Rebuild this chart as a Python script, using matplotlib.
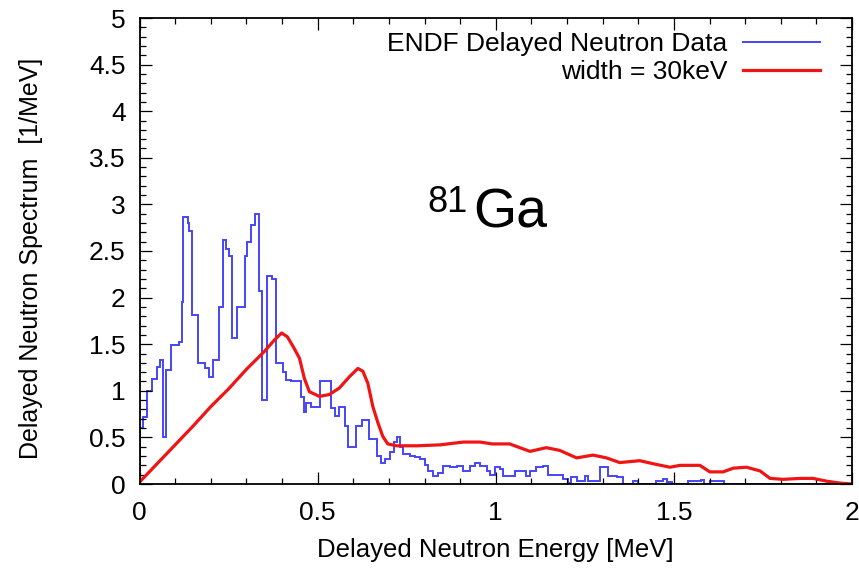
import matplotlib
matplotlib.use("Agg")
import matplotlib.pyplot as plt
from matplotlib.ticker import MultipleLocator, FuncFormatter

plt.rcParams['font.family'] = ['Liberation Sans', 'DejaVu Sans']

# ENDF delayed neutron spectrum (histogram): left bin edges and heights
blue_edges = [0.000, 0.010, 0.020, 0.035, 0.050, 0.058, 0.066, 0.073, 0.088, 0.110,
              0.118, 0.123, 0.135, 0.140, 0.148, 0.165, 0.185, 0.195, 0.205, 0.222,
              0.233, 0.243, 0.252, 0.260, 0.275, 0.296, 0.303, 0.312, 0.325, 0.336,
              0.344, 0.357, 0.372, 0.382, 0.402, 0.412, 0.425, 0.452, 0.462, 0.468,
              0.480, 0.508, 0.538, 0.548, 0.560, 0.578, 0.585, 0.607, 0.625, 0.645,
              0.667, 0.678, 0.689, 0.703, 0.713, 0.722, 0.731, 0.741, 0.759, 0.773,
              0.787, 0.801, 0.811, 0.825, 0.839, 0.853, 0.872, 0.890, 0.909, 0.928,
              0.942, 0.956, 0.975, 0.984, 0.998, 1.011, 1.020, 1.053, 1.086, 1.096,
              1.114, 1.133, 1.147, 1.189, 1.203, 1.212, 1.227, 1.250, 1.260, 1.292,
              1.316, 1.339, 1.358, 1.386, 1.400, 1.451, 1.470, 1.480, 1.494, 1.540,
              1.575, 1.585, 1.600, 1.640, 2.000]
blue_vals = [0.60, 0.72, 1.00, 1.13, 1.26, 1.33, 0.50, 1.22, 1.49, 1.52,
             1.95, 2.87, 2.80, 2.71, 1.81, 1.30, 1.24, 1.15, 1.33, 1.90,
             2.62, 2.52, 2.45, 1.57, 1.90, 2.45, 2.60, 2.78, 2.90, 2.07,
             0.90, 2.23, 2.20, 1.30, 1.20, 1.12, 1.10, 0.93, 0.77, 0.87,
             0.83, 1.10, 0.82, 0.73, 0.83, 0.62, 0.40, 0.62, 0.69, 0.48,
             0.30, 0.23, 0.27, 0.34, 0.45, 0.50, 0.40, 0.32, 0.30, 0.29,
             0.27, 0.20, 0.14, 0.09, 0.12, 0.19, 0.18, 0.19, 0.14, 0.19,
             0.23, 0.19, 0.14, 0.10, 0.18, 0.16, 0.09, 0.14, 0.09, 0.14,
             0.18, 0.19, 0.10, 0.05, 0.01, 0.07, 0.03, 0.09, 0.03, 0.18,
             0.09, 0.07, 0.00, 0.03, 0.00, 0.03, 0.05, 0.02, 0.00, 0.03,
             0.04, 0.00, 0.03, 0.00]

# smoothed spectrum, 30 keV width
red_energy = [0.000, 0.050, 0.100, 0.150, 0.200, 0.250, 0.300, 0.350, 0.380, 0.399,
              0.415, 0.432, 0.449, 0.463, 0.477, 0.505, 0.533, 0.561, 0.589, 0.613,
              0.627, 0.641, 0.655, 0.669, 0.683, 0.697, 0.722, 0.778, 0.844, 0.909,
              0.956, 0.990, 1.039, 1.096, 1.142, 1.180, 1.227, 1.273, 1.311, 1.348,
              1.404, 1.451, 1.489, 1.517, 1.545, 1.573, 1.601, 1.638, 1.667, 1.704,
              1.742, 1.770, 1.807, 1.854, 1.891, 1.929, 1.966, 2.000]
red_vals = [0.02, 0.22, 0.42, 0.62, 0.83, 1.02, 1.23, 1.42, 1.55, 1.62,
            1.58, 1.47, 1.35, 1.13, 0.99, 0.94, 0.96, 1.03, 1.15, 1.24,
            1.21, 1.08, 0.83, 0.66, 0.51, 0.43, 0.41, 0.41, 0.42, 0.45,
            0.45, 0.43, 0.43, 0.35, 0.39, 0.36, 0.28, 0.31, 0.28, 0.23,
            0.25, 0.21, 0.18, 0.20, 0.20, 0.20, 0.13, 0.13, 0.17, 0.18,
            0.14, 0.06, 0.05, 0.06, 0.06, 0.03, 0.01, 0.00]

fig = plt.figure(figsize=(8.59, 5.68), dpi=100)
ax = fig.add_axes([139.5 / 859, 1 - 484 / 568, 712.5 / 859, 466 / 568])

ax.stairs(blue_vals, blue_edges, color='#4646f5', lw=1.4,
          label='ENDF Delayed Neutron Data')
ax.plot(red_energy, red_vals, color='#f01414', lw=2.3, label='width = 30keV')

ax.set_xlim(0, 2)
ax.set_ylim(0, 5)
ax.xaxis.set_major_locator(MultipleLocator(0.5))
ax.xaxis.set_minor_locator(MultipleLocator(0.1))
ax.yaxis.set_major_locator(MultipleLocator(0.5))
ax.yaxis.set_minor_locator(MultipleLocator(0.1))
fmt = FuncFormatter(lambda v, p: '%g' % v)
ax.xaxis.set_major_formatter(fmt)
ax.yaxis.set_major_formatter(fmt)
ax.tick_params(which='both', direction='in', top=True, right=True, width=0.9)
ax.tick_params(which='major', length=8.5, labelsize=19)
ax.tick_params(which='minor', length=4.5)
ax.tick_params(axis='x', pad=12)
ax.tick_params(axis='y', pad=10)
for s in ax.spines.values():
    s.set_linewidth(1.3)

ax.set_xlabel('Delayed Neutron Energy [MeV]', fontsize=18.5, va='top')
ax.xaxis.set_label_coords(0.5, -0.115)
ax.set_ylabel('Delayed Neutron Spectrum  [1/MeV]', fontsize=18)
ax.yaxis.set_label_coords(-0.135, 0.485)

ax.legend(loc='upper right', bbox_to_anchor=(0.955, 0.969), frameon=False,
          markerfirst=False, fontsize=19, handlelength=2.9, handletextpad=0.6,
          labelspacing=0.15, borderaxespad=0, borderpad=0)

fig.text(427 / 859, 1 - 185 / 568, '81', fontsize=26, va='top', ha='left')
fig.text(473 / 859, 1 - 228 / 568, 'Ga', fontsize=40, va='baseline', ha='left')

fig.savefig('out.png', dpi=100)
